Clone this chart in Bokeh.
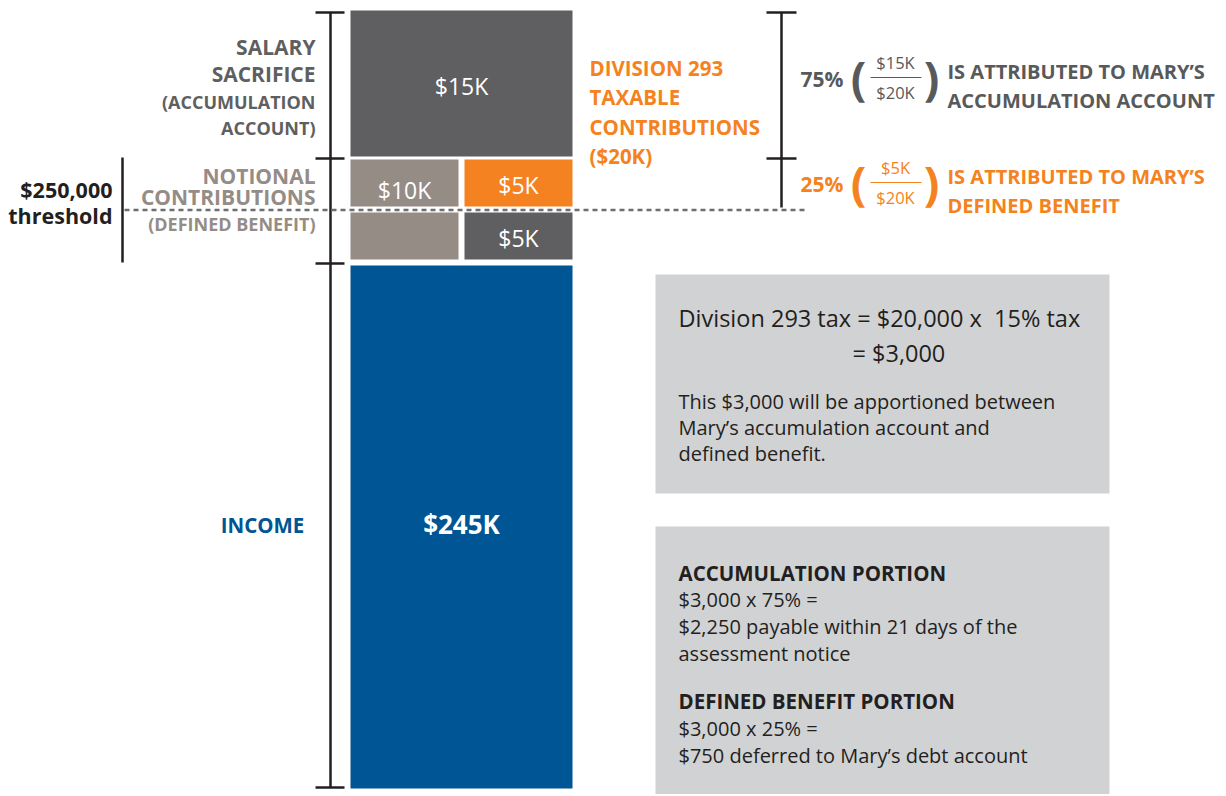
from bokeh.plotting import figure
from bokeh.models import Range1d
from bokeh.core.properties import value
from bokeh.embed import file_html
from bokeh.resources import INLINE

# ---------------- data ----------------
block_names = ["Salary sacrifice", "Notional (above threshold)", "Notional (below threshold)",
               "Division 293 share (defined benefit)", "Notional excess (below threshold)", "Income"]
block_values_k = [15, 10, None, 5, 5, 245]
block_rows = ["salary", "notional_hi", "notional_lo", "notional_hi", "notional_lo", "income"]
block_cols = ["full", "left", "left", "right", "right", "full"]
block_colors = ["#5f5f61", "#958c86", "#958c86", "#f58220", "#5f5f61", "#005595"]

threshold_label = ["$250,000", "threshold"]
div293_total_k = 20
div293_accum_k = 15
div293_db_k = 5
tax_rate_pct = 15
accum_pct = 75
db_pct = 25
tax_amount = "$3,000"
accum_amount = "$2,250"
db_amount = "$750"

FONT = "Open Sans"
NB = "\u00a0"

# layout (pixel frame)
ROWS = {"salary": (10, 156), "notional_hi": (159, 206), "notional_lo": (212, 259), "income": (265, 788)}
COLS = {"full": (350, 572), "left": (350, 458), "right": (464, 572)}

W, H = 1224, 794
p = figure(width=W, height=H, x_range=Range1d(0, W), y_range=Range1d(H, 0),
           toolbar_location=None, output_backend="svg", min_border=0,
           x_axis_location=None, y_axis_location=None, outline_line_color=None)
p.xgrid.visible = False
p.ygrid.visible = False
p.background_fill_color = "white"
p.border_fill_color = "white"


def txt(x, y, s, size, color, bold=False, align="left", font=FONT, style=None):
    p.text(x=[x], y=[y], text=[s], text_font=value(font), text_font_size=f"{size}px",
           text_color=color, text_align=align, text_baseline="middle",
           text_font_style=style or ("bold" if bold else "normal"))


# grey info boxes
p.quad(left=[655, 655], right=[1109, 1109], top=[274, 526], bottom=[493, 800],
       fill_color="#d1d2d4", line_color=None)

# bars
lefts, rights, tops, bottoms = [], [], [], []
for r, c in zip(block_rows, block_cols):
    lefts.append(COLS[c][0]); rights.append(COLS[c][1])
    tops.append(ROWS[r][0]); bottoms.append(ROWS[r][1])
p.quad(left=lefts, right=rights, top=tops, bottom=bottoms, fill_color=block_colors, line_color=None)

# bar labels
for v, r, c in zip(block_values_k, block_rows, block_cols):
    if v is None:
        continue
    cx = (COLS[c][0] + COLS[c][1]) / 2
    cy = (ROWS[r][0] + ROWS[r][1]) / 2
    if r == "income":
        txt(cx, cy - 3, f"${v}K", 26, "white", bold=True, align="center")
    elif c == "left" and r == "notional_hi":
        txt(cx, cy + 7, f"${v}K", 23, "white", align="center")
    else:
        txt(cx, cy + 2, f"${v}K", 23, "white", align="center")

# left bracket
INK = "#231f20"
p.segment(x0=[330], y0=[12], x1=[330], y1=[787], line_color=INK, line_width=2.5)
p.segment(x0=[315] * 4, x1=[344] * 4, y0=[12, 158, 263, 787], y1=[12, 158, 263, 787],
          line_color=INK, line_width=2.5)
# threshold bracket
p.segment(x0=[122], y0=[157], x1=[122], y1=[262], line_color=INK, line_width=2.5)
# right bracket
p.segment(x0=[781], y0=[12], x1=[781], y1=[207], line_color=INK, line_width=2.5)
p.segment(x0=[766, 766], x1=[796, 796], y0=[12, 158], y1=[12, 158], line_color=INK, line_width=2.5)
# threshold dashed line
p.segment(x0=[124], y0=[209.5], x1=[805], y1=[209.5], line_color="#6d6e70", line_width=2.5,
          line_dash="5 4")

# left labels
G1 = "#5f5f61"
G2 = "#958c86"
BLUE = "#005595"
ORANGE = "#f58220"
txt(315, 46, "SALARY", 21, G1, bold=True, align="right")
txt(315, 73, "SACRIFICE", 21, G1, bold=True, align="right")
txt(315, 101, "(ACCUMULATION", 18, G1, bold=True, align="right")
txt(315, 127, "ACCOUNT)", 18, G1, bold=True, align="right")
txt(315, 175, "NOTIONAL", 21, G2, bold=True, align="right")
txt(315, 196, "CONTRIBUTIONS", 21, G2, bold=True, align="right")
txt(315, 223, "(DEFINED BENEFIT)", 18, G2, bold=True, align="right")
txt(112, 189, threshold_label[0], 21.5, INK, bold=True, align="right")
txt(112, 215, threshold_label[1], 21.5, INK, bold=True, align="right")
txt(262, 524, "INCOME", 20.5, BLUE, bold=True, align="center")

# division 293 label
for i, s in enumerate(["DIVISION 293", "TAXABLE", "CONTRIBUTIONS", f"(${div293_total_k}K)"]):
    txt(589, 67 + i * 29.5, s, 20.5, ORANGE, bold=True)

# attribution rows
G3 = "#58595b"
for (pct, num, col, y, l2) in [(accum_pct, div293_accum_k, G3, 77, "ACCUMULATION ACCOUNT"),
                               (db_pct, div293_db_k, ORANGE, 182, "DEFINED BENEFIT")]:
    txt(800, y + 1, f"{pct}%", 21, col, bold=True)
    txt(858, y - 1, "(", 46, col, bold=True, align="center")
    txt(931, y - 1, ")", 46, col, bold=True, align="center")
    txt(895, y - 15, f"${num}K", 16.5, col, align="center")
    txt(895, y + 15, f"${div293_total_k}K", 16.5, col, align="center")
    p.segment(x0=[870], x1=[921], y0=[y], y1=[y], line_color=col, line_width=1.2)
    txt(947, y - 6, "IS ATTRIBUTED TO MARY\u2019S", 20, col, bold=True)
    txt(947, y + 23, l2, 20, col, bold=True)

# box 1
T = "#231f20"
txt(678, 317, f"Division 293 tax = ${div293_total_k},000 x{NB} {tax_rate_pct}% tax", 23.5, T)
txt(852, 352, f"= {tax_amount}", 23.5, T)
for i, s in enumerate([f"This {tax_amount} will be apportioned between",
                       "Mary\u2019s accumulation account and",
                       "defined benefit."]):
    txt(678, 401 + i * 26, s, 20, T)

# box 2
lines2 = [("ACCUMULATION PORTION", True), (f"{tax_amount} x {accum_pct}% =", False),
          (f"{accum_amount} payable within 21 days of the", False), ("assessment notice", False)]
for i, (s, b) in enumerate(lines2):
    txt(678, 572 + i * 27, s, 20 if not b else 20.5, T, bold=b)
lines3 = [("DEFINED BENEFIT PORTION", True), (f"{tax_amount} x {db_pct}% =", False),
          (f"{db_amount} deferred to Mary\u2019s debt account", False)]
for i, (s, b) in enumerate(lines3):
    txt(678, 700 + i * 27.5, s, 20 if not b else 20.5, T, bold=b)

open("out.html", "w").write(file_html(p, INLINE))
